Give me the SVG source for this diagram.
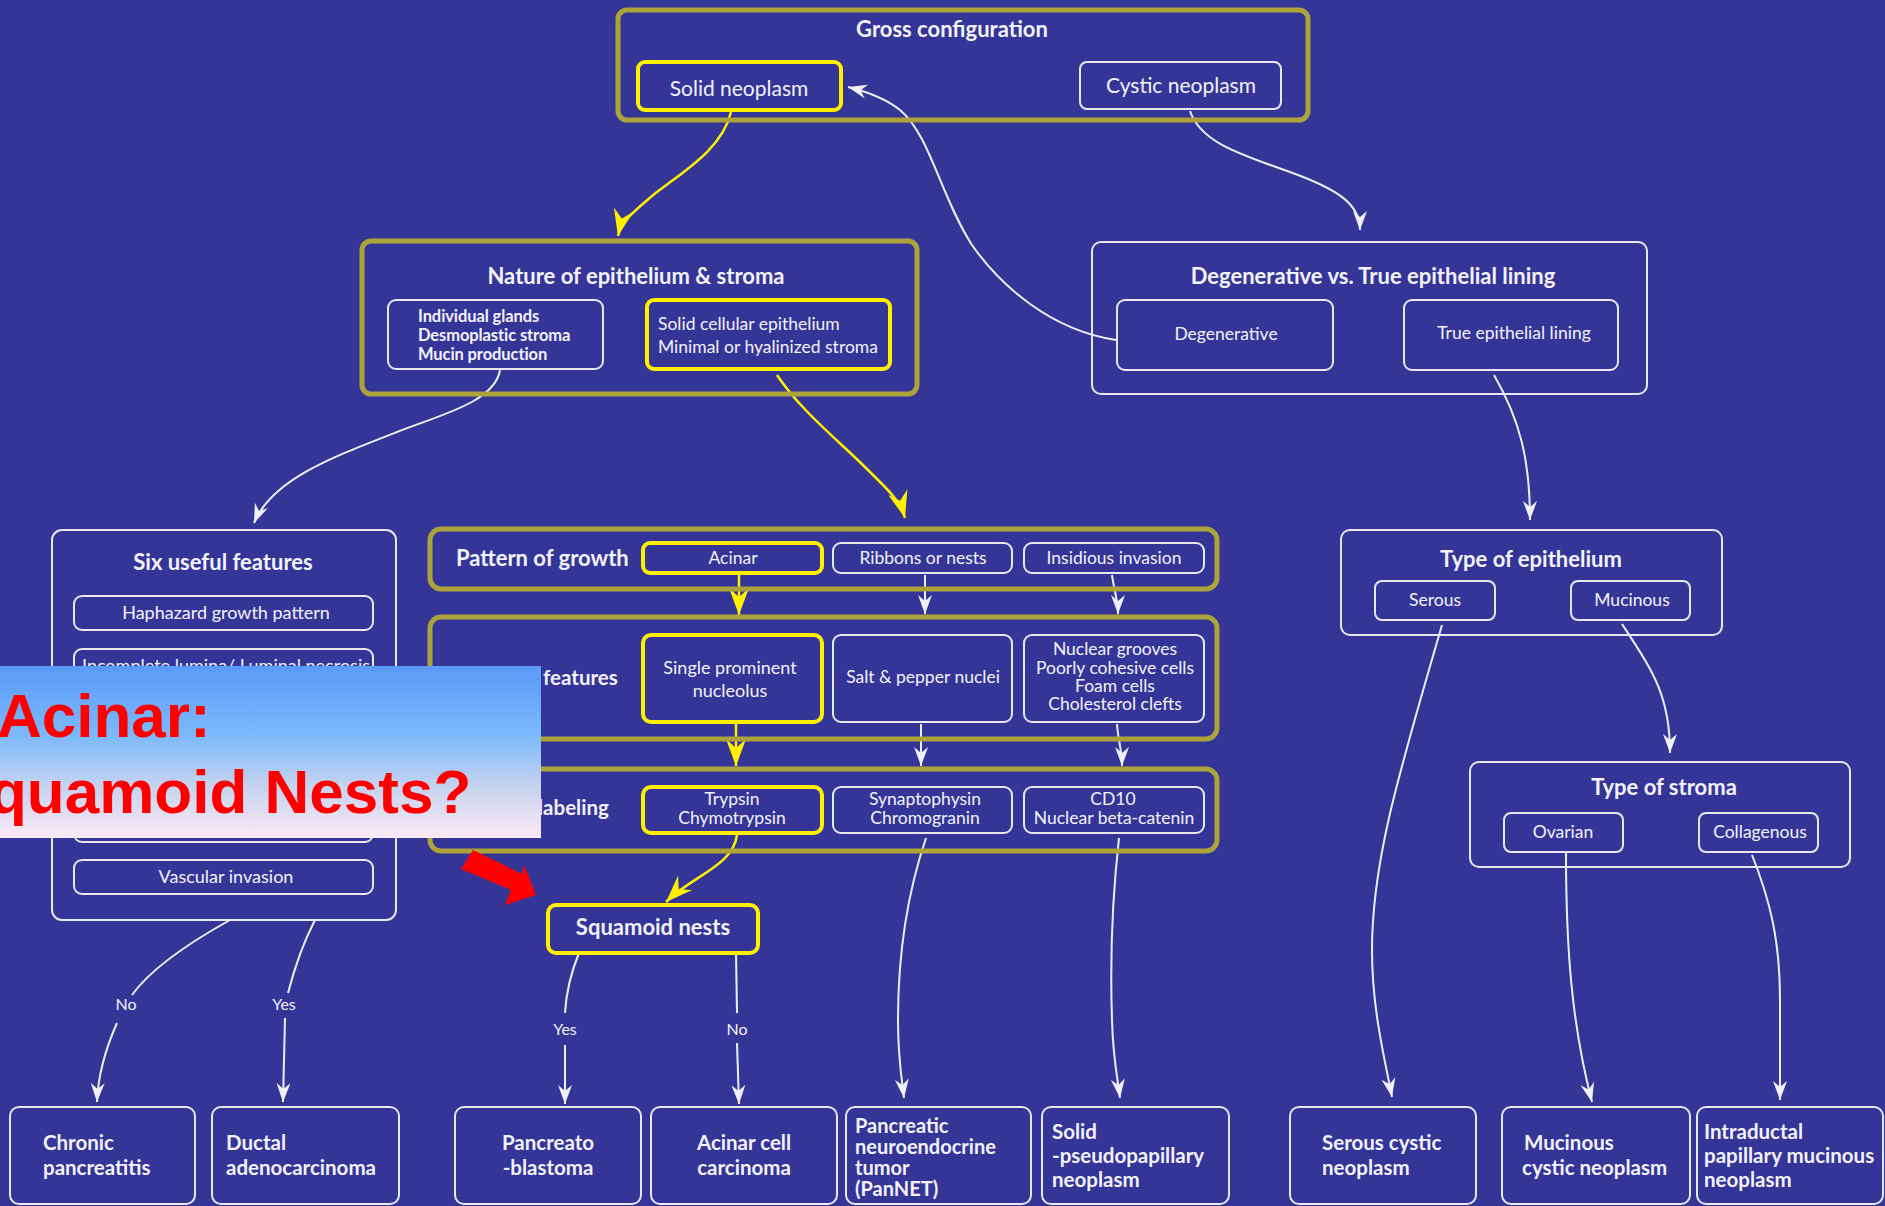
<svg xmlns="http://www.w3.org/2000/svg" width="1885" height="1206" viewBox="0 0 1885 1206">
<style>
.ol{fill:none;stroke:#aca33a;stroke-width:5}
.ye{fill:none;stroke:#fff000;stroke-width:4}
.wh{fill:none;stroke:#e8e8f2;stroke-width:2}
.t{font-family:Lato,"Open Sans",sans-serif;fill:#f2f2f8;font-size:17.5px}
.b{font-weight:bold}
.c{text-anchor:middle}
.h{font-size:22px;font-weight:bold}
.m{font-size:21px}
.bt{font-size:20.5px;font-weight:bold}
.s16{font-size:16px}
.s18{font-size:18px}
.g{font-size:16.5px;font-weight:bold;letter-spacing:-0.1px}
.lb{font-size:20.5px;font-weight:bold}
.pn{font-size:20px;font-weight:bold}
.cw{fill:none;stroke:#eeeef6;stroke-width:2;marker-end:url(#aw)}
.cy{fill:none;stroke:#fff000;stroke-width:2.5;marker-end:url(#ay)}
.ln{fill:none;stroke:#eeeef6;stroke-width:2}
.red{font-family:"Liberation Sans",Arial,sans-serif;font-weight:bold;font-size:62px;fill:#ff0000}
</style>
<defs>
<marker id="aw" markerUnits="userSpaceOnUse" viewBox="-20 -8 22 16" refX="0" refY="0" markerWidth="22" markerHeight="16" orient="auto"><path d="M0,0 L-19,-7 L-13,0 L-19,7 Z" fill="#f0f0f6"/></marker>
<marker id="ay" markerUnits="userSpaceOnUse" viewBox="-28 -11 30 22" refX="0" refY="0" markerWidth="30" markerHeight="22" orient="auto"><path d="M0,0 L-27,-10 L-18,0 L-27,10 Z" fill="#fff000"/></marker>
<linearGradient id="ov" x1="0" y1="0" x2="0" y2="1">
<stop offset="0" stop-color="#5a9af8"/>
<stop offset="0.4" stop-color="#7bb9fa"/>
<stop offset="0.7" stop-color="#c6d3ef"/>
<stop offset="1" stop-color="#fbe9f5"/>
</linearGradient>
</defs>
<rect x="0" y="0" width="1885" height="1206" fill="#353598"/>

<g id="connectors">
<path class="cy" d="M731,112 C722,150 682,172 652,196 C632,213 621,222 618,236"/>
<path class="cw" d="M1116,340 C1050,330 1000,285 972,245 C940,195 930,135 900,110 C885,98 868,92 848,87"/>
<path class="cw" d="M1190,111 C1200,140 1232,152 1290,172 C1340,190 1360,205 1360,230"/>
<path class="cw" d="M500,370 C495,402 440,415 397,432 C330,458 272,480 254,523"/>
<path class="cy" d="M777,375 C800,410 838,440 868,470 C888,490 900,500 905,518"/>
<path class="cw" d="M1494,375 C1520,420 1530,460 1530,520"/>
<path class="cw" d="M1622,624 C1652,670 1670,695 1670,753"/>
<path class="cw" d="M1442,625 C1400,770 1372,860 1372,950 C1372,1010 1385,1060 1392,1097"/>
<path class="cw" d="M1566,853 C1566,950 1572,1025 1592,1102"/>
<path class="cw" d="M1752,855 C1770,900 1780,940 1780,1000 L1780,1100"/>
<path class="cy" d="M739,575 L739,615"/>
<path class="cw" d="M925,575 L925,614"/>
<path class="cw" d="M1112,575 C1114,590 1118,600 1118,614"/>
<path class="cy" d="M736,724 L736,766"/>
<path class="cw" d="M921,724 L921,766"/>
<path class="cw" d="M1117,724 C1118,740 1122,750 1122,766"/>
<path class="cy" d="M737,835 C733,866 692,876 666,902"/>
<path class="cw" d="M926,838 C905,900 898,960 898,1020 C898,1060 902,1080 904,1098"/>
<path class="cw" d="M1119,838 C1112,900 1110,960 1112,1020 C1113,1060 1118,1080 1120,1098"/>
<path class="ln" d="M579,953 C570,975 566,995 565,1013"/>
<text class="t s16 c" x="565" y="1035">Yes</text>
<path class="cw" d="M565,1045 L565,1104"/>
<path class="ln" d="M736,953 L737,1013"/>
<text class="t s16 c" x="737" y="1035">No</text>
<path class="cw" d="M737,1043 L739,1104"/>
<path class="ln" d="M230,920 C185,945 150,970 132,995"/>
<text class="t s16 c" x="126" y="1010">No</text>
<path class="cw" d="M117,1023 C105,1050 98,1075 97,1102"/>
<path class="ln" d="M315,920 C302,945 294,970 288,993"/>
<text class="t s16 c" x="284" y="1010">Yes</text>
<path class="cw" d="M285,1018 L283,1102"/>
</g>

<g id="gross">
<rect class="ol" x="618" y="10" width="690" height="110" rx="9"/>
<text class="t h c" x="952" y="37">Gross configuration</text>
</g>
<g id="solid-neoplasm">
<rect class="ye" x="638" y="62" width="203" height="48" rx="7"/>
<text class="t m c" x="739" y="96">Solid neoplasm</text>
</g>
<g id="cystic-neoplasm">
<rect class="wh" x="1080" y="62" width="201" height="47" rx="7"/>
<text class="t m c" x="1181" y="93">Cystic neoplasm</text>
</g>

<g id="nature">
<rect class="ol" x="362" y="241" width="555" height="153" rx="9"/>
<text class="t h c" x="636" y="284">Nature of epithelium &amp; stroma</text>
</g>
<g id="glands">
<rect class="wh" x="388" y="300" width="215" height="69" rx="8"/>
<text class="t g" x="418" y="322">Individual glands</text>
<text class="t g" x="418" y="341">Desmoplastic stroma</text>
<text class="t g" x="418" y="360">Mucin production</text>
</g>
<g id="solid-cellular">
<rect class="ye" x="647" y="300" width="243" height="69" rx="7"/>
<text class="t" x="658" y="330">Solid cellular epithelium</text>
<text class="t" x="658" y="353">Minimal or hyalinized stroma</text>
</g>

<g id="degen-true">
<rect class="wh" x="1092" y="242" width="555" height="152" rx="9"/>
<text class="t h c" x="1373" y="284">Degenerative vs. True epithelial lining</text>
</g>
<g id="degenerative">
<rect class="wh" x="1117" y="300" width="216" height="70" rx="8"/>
<text class="t c" x="1226" y="340">Degenerative</text>
</g>
<g id="true-lining">
<rect class="wh" x="1404" y="300" width="214" height="70" rx="8"/>
<text class="t c" x="1514" y="339">True epithelial lining</text>
</g>

<g id="six-features">
<rect class="wh" x="52" y="530" width="344" height="390" rx="10"/>
<text class="t h c" x="223" y="570">Six useful features</text>
<rect class="wh" x="74" y="596" width="299" height="34" rx="8"/>
<text class="t s18 c" x="226" y="619">Haphazard growth pattern</text>
<rect class="wh" x="74" y="649" width="299" height="34" rx="8"/>
<text class="t s18 c" x="226" y="672">Incomplete lumina/ Luminal necrosis</text>
<rect class="wh" x="74" y="702" width="299" height="34" rx="8"/>
<rect class="wh" x="74" y="755" width="299" height="34" rx="8"/>
<rect class="wh" x="74" y="808" width="299" height="34" rx="8"/>
<rect class="wh" x="74" y="860" width="299" height="34" rx="8"/>
<text class="t s18 c" x="226" y="883">Vascular invasion</text>
</g>

<g id="pattern">
<rect class="ol" x="430" y="529" width="787" height="60" rx="11"/>
<text class="t h" x="456" y="566">Pattern of growth</text>
</g>
<g id="acinar"><rect class="ye" x="643" y="543" width="179" height="30" rx="7"/><text class="t c" x="733" y="564">Acinar</text></g>
<g id="ribbons"><rect class="wh" x="833" y="543" width="179" height="30" rx="8"/><text class="t c" x="923" y="564">Ribbons or nests</text></g>
<g id="insidious"><rect class="wh" x="1024" y="543" width="180" height="30" rx="8"/><text class="t c" x="1114" y="564">Insidious invasion</text></g>

<g id="features">
<rect class="ol" x="430" y="617" width="787" height="122" rx="11"/>
<text class="t lb" x="543" y="685">features</text>
</g>
<g id="nucleolus"><rect class="ye" x="643" y="635" width="179" height="87" rx="8"/><text class="t s18 c" x="730" y="674">Single prominent</text><text class="t s18 c" x="730" y="697">nucleolus</text></g>
<g id="salt-pepper"><rect class="wh" x="833" y="635" width="179" height="87" rx="8"/><text class="t c" x="923" y="683">Salt &amp; pepper nuclei</text></g>
<g id="grooves"><rect class="wh" x="1024" y="635" width="180" height="87" rx="8"/>
<text class="t c" x="1115" y="655">Nuclear grooves</text>
<text class="t c" x="1115" y="674">Poorly cohesive cells</text>
<text class="t c" x="1115" y="692">Foam cells</text>
<text class="t c" x="1115" y="710">Cholesterol clefts</text></g>

<g id="labeling">
<rect class="ol" x="430" y="769" width="787" height="82" rx="11"/>
<text class="t lb" x="538" y="815">labeling</text>
</g>
<g id="trypsin"><rect class="ye" x="643" y="787" width="179" height="46" rx="8"/><text class="t c" x="732" y="805">Trypsin</text><text class="t c" x="732" y="824">Chymotrypsin</text></g>
<g id="synapto"><rect class="wh" x="833" y="787" width="179" height="46" rx="8"/><text class="t c" x="925" y="805">Synaptophysin</text><text class="t c" x="925" y="824">Chromogranin</text></g>
<g id="cd10"><rect class="wh" x="1024" y="787" width="180" height="46" rx="8"/><text class="t c" x="1113" y="805">CD10</text><text class="t c" x="1114" y="824">Nuclear beta-catenin</text></g>

<g id="squamoid"><rect class="ye" x="548" y="905" width="210" height="48" rx="8"/><text class="t h c" x="653" y="935">Squamoid nests</text></g>

<g id="type-epi">
<rect class="wh" x="1341" y="530" width="381" height="105" rx="9"/>
<text class="t h c" x="1531" y="567">Type of epithelium</text>
<rect class="wh" x="1375" y="581" width="120" height="39" rx="7"/>
<text class="t c" x="1435" y="606">Serous</text>
<rect class="wh" x="1571" y="581" width="119" height="39" rx="7"/>
<text class="t c" x="1632" y="606">Mucinous</text>
</g>
<g id="type-stroma">
<rect class="wh" x="1470" y="762" width="380" height="105" rx="9"/>
<text class="t h c" x="1664" y="795">Type of stroma</text>
<rect class="wh" x="1504" y="813" width="119" height="39" rx="7"/>
<text class="t c" x="1563" y="838">Ovarian</text>
<rect class="wh" x="1699" y="813" width="119" height="39" rx="7"/>
<text class="t c" x="1760" y="838">Collagenous</text>
</g>

<g id="chronic"><rect class="wh" x="10" y="1107" width="185" height="97" rx="9"/><text class="t bt" x="43" y="1150">Chronic</text><text class="t bt" x="43" y="1175">pancreatitis</text></g>
<g id="ductal"><rect class="wh" x="212" y="1107" width="187" height="97" rx="9"/><text class="t bt" x="226" y="1150">Ductal</text><text class="t bt" x="226" y="1175">adenocarcinoma</text></g>
<g id="pancreatoblastoma"><rect class="wh" x="455" y="1107" width="186" height="97" rx="9"/><text class="t bt c" x="548" y="1150">Pancreato</text><text class="t bt c" x="548" y="1175">-blastoma</text></g>
<g id="acinar-cell"><rect class="wh" x="651" y="1107" width="186" height="97" rx="9"/><text class="t bt c" x="744" y="1150">Acinar cell</text><text class="t bt c" x="744" y="1175">carcinoma</text></g>
<g id="pannet"><rect class="wh" x="846" y="1107" width="185" height="97" rx="9"/>
<text class="t pn" x="855" y="1133">Pancreatic</text><text class="t pn" x="855" y="1154">neuroendocrine</text><text class="t pn" x="855" y="1175">tumor</text><text class="t pn" x="855" y="1196">(PanNET)</text></g>
<g id="spn"><rect class="wh" x="1042" y="1107" width="187" height="97" rx="9"/>
<text class="t bt" x="1052" y="1139">Solid</text><text class="t bt" x="1052" y="1163">-pseudopapillary</text><text class="t bt" x="1052" y="1187">neoplasm</text></g>
<g id="serous-cystic"><rect class="wh" x="1290" y="1107" width="186" height="97" rx="9"/><text class="t bt" x="1322" y="1150">Serous cystic</text><text class="t bt" x="1322" y="1175">neoplasm</text></g>
<g id="mucinous-cystic"><rect class="wh" x="1502" y="1107" width="188" height="97" rx="9"/><text class="t bt" x="1524" y="1150">Mucinous</text><text class="t bt" x="1522" y="1175">cystic neoplasm</text></g>
<g id="ipmn"><rect class="wh" x="1697" y="1107" width="186" height="97" rx="9"/>
<text class="t bt" x="1704" y="1139">Intraductal</text><text class="t bt" x="1704" y="1163">papillary mucinous</text><text class="t bt" x="1704" y="1187">neoplasm</text></g>

<g id="overlay">
<rect x="0" y="666" width="541" height="172" fill="url(#ov)"/>
<text class="red" x="-3" y="737">Acinar:</text>
<text class="red" x="-11" y="813">quamoid Nests?</text>
</g>
<g id="red-arrow">
<polygon points="473,850 522,874 524,865 536,895 505,905 511,890 461,869" fill="#ff0000"/>
</g>
</svg>
